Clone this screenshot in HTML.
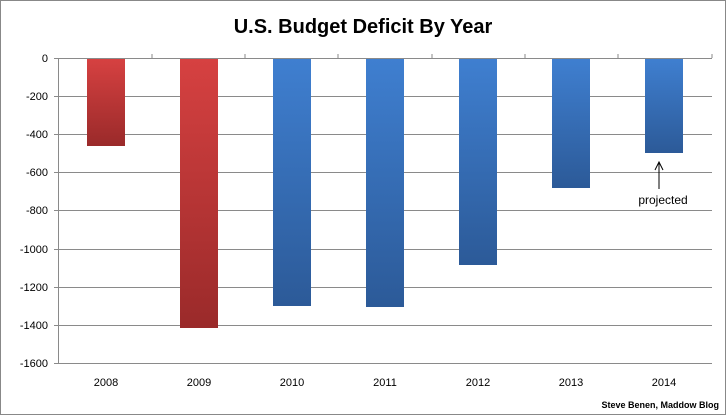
<!DOCTYPE html>
<html><head><style>body{margin:0;background:#fff}svg{display:block}</style></head><body>
<svg width="727" height="416" xmlns="http://www.w3.org/2000/svg" font-family="Liberation Sans, sans-serif">
<defs>
<linearGradient id="r" x1="0" y1="0" x2="0" y2="1"><stop offset="0" stop-color="#d64141"/><stop offset="1" stop-color="#9a2a2a"/></linearGradient>
<linearGradient id="b" x1="0" y1="0" x2="0" y2="1"><stop offset="0" stop-color="#3f7fd0"/><stop offset="1" stop-color="#2c5a98"/></linearGradient>
</defs>
<rect x="0.5" y="0.5" width="725" height="414" fill="#fff" stroke="#888"/>
<text x="363" y="33" text-anchor="middle" font-size="20" font-weight="bold" fill="#000">U.S. Budget Deficit By Year</text>
<g stroke="#8a8a8a" stroke-width="1">
<line x1="54" x2="712" y1="58.5" y2="58.5"/><line x1="54" x2="712" y1="96.5" y2="96.5"/><line x1="54" x2="712" y1="134.5" y2="134.5"/><line x1="54" x2="712" y1="172.5" y2="172.5"/><line x1="54" x2="712" y1="210.5" y2="210.5"/><line x1="54" x2="712" y1="249.5" y2="249.5"/><line x1="54" x2="712" y1="287.5" y2="287.5"/><line x1="54" x2="712" y1="325.5" y2="325.5"/><line x1="54" x2="712" y1="363.5" y2="363.5"/>
<line x1="58.5" x2="58.5" y1="58" y2="364"/>
<line x1="152" x2="152" y1="54" y2="58"/><line x1="245" x2="245" y1="54" y2="58"/><line x1="338" x2="338" y1="54" y2="58"/><line x1="432" x2="432" y1="54" y2="58"/><line x1="525" x2="525" y1="54" y2="58"/><line x1="618" x2="618" y1="54" y2="58"/><line x1="712" x2="712" y1="54" y2="58"/>
</g>
<g font-size="11" fill="#000" text-anchor="end">
<text x="48" y="62">0</text><text x="48" y="100">-200</text><text x="48" y="138">-400</text><text x="48" y="176">-600</text><text x="48" y="214">-800</text><text x="48" y="253">-1000</text><text x="48" y="291">-1200</text><text x="48" y="329">-1400</text><text x="48" y="367">-1600</text>
</g>
<g font-size="11" fill="#000" text-anchor="middle">
<text x="106" y="386">2008</text><text x="199" y="386">2009</text><text x="292" y="386">2010</text><text x="385" y="386">2011</text><text x="478" y="386">2012</text><text x="571" y="386">2013</text><text x="664" y="386">2014</text>
</g>
<g>
<rect x="87" y="59" width="38" height="87" fill="url(#r)"/>
<rect x="180" y="59" width="38" height="269" fill="url(#r)"/>
<rect x="273" y="59" width="38" height="247" fill="url(#b)"/>
<rect x="366" y="59" width="38" height="248" fill="url(#b)"/>
<rect x="459" y="59" width="38" height="206" fill="url(#b)"/>
<rect x="552" y="59" width="38" height="129" fill="url(#b)"/>
<rect x="645" y="59" width="38" height="94" fill="url(#b)"/>
</g>
<line x1="659" y1="163" x2="659" y2="189" stroke="#000"/>
<path d="M655 170 L659 162 L663 170" fill="none" stroke="#000"/>
<text x="663" y="204" font-size="12" text-anchor="middle" fill="#000">projected</text>
<text x="719" y="408" font-size="9" font-weight="bold" text-anchor="end" fill="#000">Steve Benen, Maddow Blog</text>
</svg>
</body></html>
